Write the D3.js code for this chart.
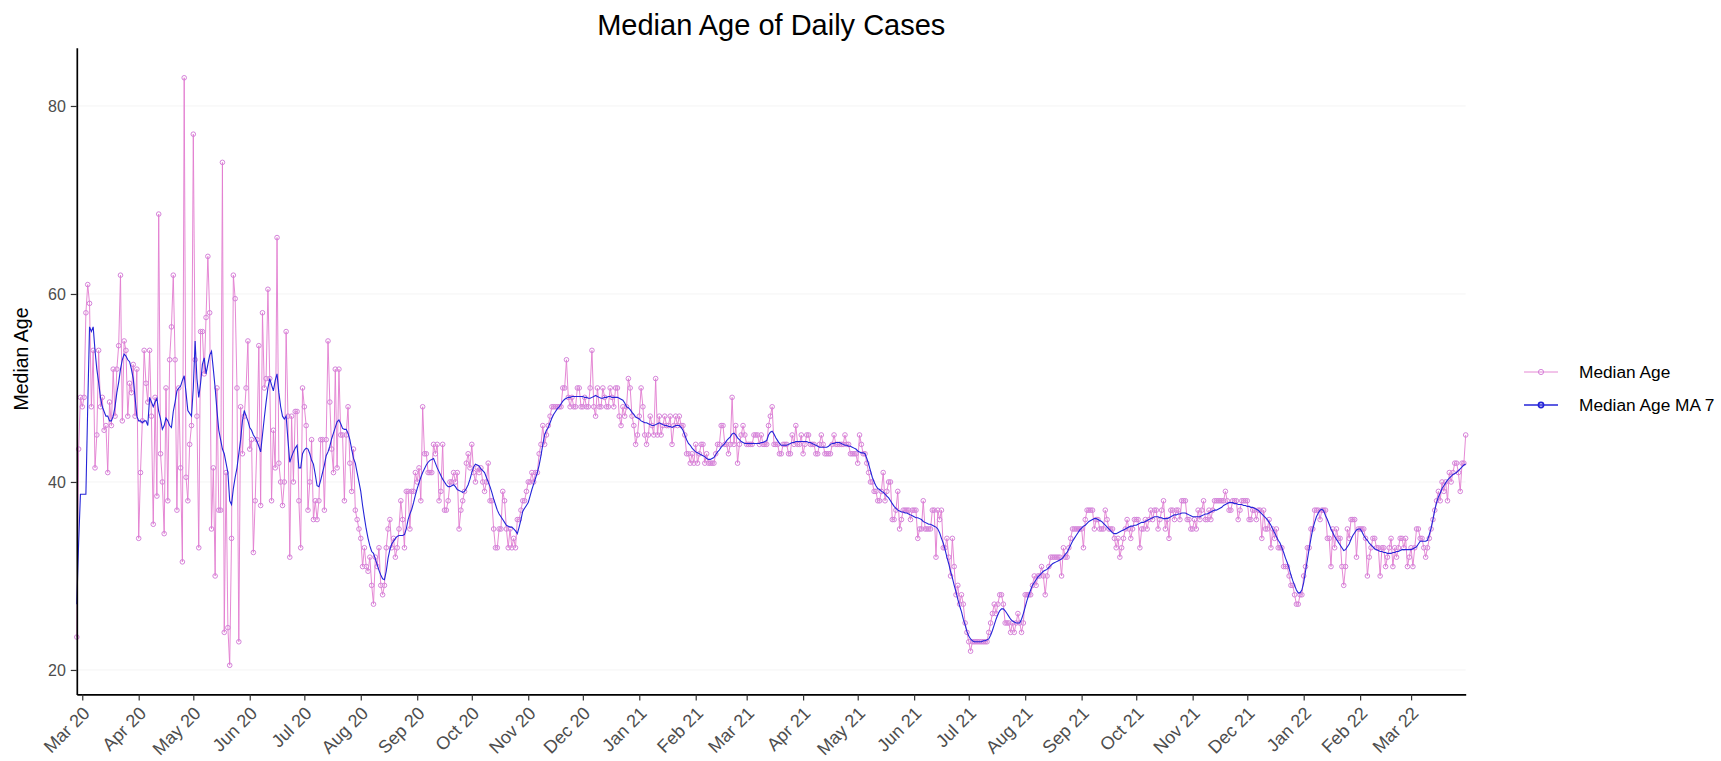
<!DOCTYPE html>
<html>
<head>
<meta charset="utf-8">
<script src="https://cdn.jsdelivr.net/npm/d3@7"></script>
<style>
    body { margin: 0; background: #fff; }
    svg { display: block; font-family: "Liberation Sans", Arial, sans-serif; }
</style>
</head>
<body>
<svg></svg>
<script>
// first day of the series, one value per day after it
const startDate = new Date(Date.UTC(2020, 1, 27));

const ages2020 = [
    23.5, 43.5, 49,
    48, 49, 58, 61, 59, 48, 54, 41.5, 45, 54, 48, 49, 45.5, 46, 41, 48.5, 46, 52, 47, 52, 54.5, 62, 46.5, 55, 54, 47, 50.5, 49.5, 52.5, 47, 52,
    34, 41, 46.5, 54, 50.5, 48.5, 54, 47, 35.5, 49, 38.5, 68.5, 43, 40, 34.5, 50, 38, 53, 56.5, 62, 53, 37, 50, 41.5, 31.5, 83, 40.5, 38, 44, 46,
    77, 53, 47, 33, 56, 56, 51.5, 57.5, 64, 58, 35, 41.5, 30, 50, 37, 37, 74, 24, 41, 24.5, 20.5, 34, 62, 59.5, 50, 23, 48, 43, 47, 50, 55,
    43.5, 44.5, 32.5, 38, 44.5, 54.5, 37.5, 58, 50, 51, 60.5, 51, 38, 45.5, 41.5, 66, 42, 40, 37.5, 40, 56, 47, 32, 47, 40, 47.5, 47.5, 38, 33, 50,
    48, 46, 37, 40, 44.5, 36, 38, 36, 38, 44.5, 44.5, 37, 44.5, 55, 48.5, 43.5, 41, 52, 41.5, 52, 45, 45, 38, 45, 48, 42, 39, 43.5, 37, 36, 35,
    34, 31, 33, 31, 30.5, 32, 29, 27, 32, 31, 33, 29, 28, 29, 33, 35, 36, 33, 34, 32, 33, 35, 38, 36, 33, 39, 39, 35, 39, 39, 41,
    40, 41.5, 38, 48, 43, 43, 41, 41, 41, 44, 43, 44, 38, 39, 44, 37, 37, 38, 40, 40, 41, 40, 41, 35, 37, 38, 39, 42, 43, 41.5,
    44, 41, 40, 41.5, 41, 41.5, 40, 39, 40, 42, 38, 38, 35, 33, 33, 35, 35, 39, 38, 35, 33, 35, 33, 34, 33, 36, 36, 37, 38, 38, 39,
    40, 40, 41, 40, 41, 41, 43, 44, 46, 44, 45, 46, 47, 48, 48, 48, 48, 48, 48, 50, 50, 53, 49, 48, 49, 48, 48, 50, 50, 48,
    48, 49, 48, 48, 50, 54, 48, 47, 50, 48, 48, 50, 49, 48, 48, 50, 49, 48, 50, 50, 47, 46, 48, 47, 48, 51, 50, 47, 46, 44, 45
];

const ages2021 = [
    47, 50, 48, 45, 44, 45, 47, 46, 45, 51, 45, 47, 45, 46, 47, 46, 46, 47, 44, 46, 47, 46, 47, 46, 46, 45, 43, 43, 42, 43, 42,
    44, 42, 43, 44, 44, 42, 43, 42, 42, 42, 42, 43, 44, 44, 46, 46, 44, 44, 43, 44, 49, 44, 46, 42, 44, 45, 46, 45,
    44, 44, 44, 44, 45, 45, 45, 44, 45, 44, 44, 44, 46, 47, 48, 44, 44, 44, 43, 43, 44, 44, 44, 43, 43, 45, 44, 46, 44, 44, 45,
    43, 44, 45, 45, 44, 44, 44, 43, 43, 44, 45, 44, 43, 43, 43, 43, 44, 45, 44, 44, 44, 44, 44, 45, 44, 44, 43, 43, 43, 43,
    42, 45, 44, 43, 43, 42, 41, 40, 40, 39, 39, 38, 38, 39, 41, 38, 39, 40, 40, 36, 36, 37, 39, 35, 36, 37, 37, 37, 37, 36, 37,
    37, 37, 34, 35, 35, 38, 35, 35, 35, 35, 37, 37, 32, 37, 36, 37, 33, 33, 34, 32, 30, 34, 31, 28, 29, 27, 28, 27, 25, 24,
    23, 22, 23, 23, 23, 23, 23, 23, 23, 23, 23, 24, 25, 26, 27, 26, 27, 28, 28, 27, 25, 25, 25, 24, 25, 24, 25, 26, 25, 24, 25,
    28, 28, 28, 28, 29, 30, 29, 30, 30, 31, 30, 28, 30, 31, 32, 32, 32, 32, 32, 32, 30, 33, 32, 32, 33, 34, 35, 35, 35, 35, 35,
    35, 33, 36, 37, 37, 37, 37, 35, 36, 36, 35, 35, 35, 37, 36, 35, 35, 35, 34, 33, 34, 32, 33, 34, 35, 36, 35, 34, 35, 36,
    36, 36, 33, 35, 35, 36, 35, 36, 37, 36, 37, 37, 35, 36, 37, 38, 35, 36, 34, 37, 37, 36, 37, 37, 36, 38, 38, 38, 36, 36, 35,
    35, 36, 35, 37, 36, 37, 38, 36, 36, 37, 36, 37, 38, 38, 38, 38, 38, 38, 39, 38, 37, 37, 38, 38, 38, 36, 37, 38, 38, 38,
    38, 36, 36, 37, 37, 36, 37, 37, 34, 37, 35, 35, 36, 33, 35, 34, 35, 33, 33, 33, 31, 31, 31, 30, 29, 29, 28, 27, 27, 28, 28
];

const ages2022 = [
    30, 31, 33, 33, 35, 35, 37, 37, 37, 36, 37, 37, 37, 34, 34, 31, 35, 33, 35, 34, 34, 31, 29, 31, 35, 34, 36, 36, 36, 32, 35,
    35, 35, 35, 34, 30, 32, 33, 34, 34, 33, 33, 30, 33, 33, 31, 32, 33, 34, 31, 33, 32, 33, 34, 34, 33, 34, 31, 32,
    33, 31, 33, 35, 35, 34, 34, 33, 32, 33, 34, 35, 36, 37, 38, 39, 38, 40, 39, 40, 38, 41, 40, 41, 42, 42, 41, 39, 42, 42, 45
];

const ma2020 = [
    27, 33.5, 38.7,
    38.7, 38.7, 38.7, 48, 56.5, 56, 56.5, 54, 52, 50.6, 49, 48, 47.5, 47, 47, 46.5, 46.5, 47, 48, 49.5, 50.6, 52, 53, 53.6, 53.4, 53, 52.8, 52, 51, 49, 47,
    46.5, 46.5, 46.3, 46.5, 46.5, 46, 49, 48.5, 48, 48.5, 48.9, 47.5, 46.7, 45.6, 46, 46.8, 46.5, 46, 45.8, 47.5, 48.5, 49.7, 50, 50.2, 50.8, 51.3, 49.5, 47.6, 47.3, 47,
    50, 55, 51, 49, 50.5, 52.5, 53.2, 51.5, 52.5, 53.5, 53.9, 52, 50, 47.6, 45.5, 44.5, 43.5, 43, 42, 41, 38, 37.6, 39.3, 40.5, 41.5, 43, 44.5, 46.5, 47.6, 47, 46.5,
    45.8, 45.5, 45, 44.7, 44.3, 43.8, 43.2, 45, 46.8, 48.5, 50, 51, 50.3, 49.7, 50.8, 51.5, 49.5, 48, 47, 46.7, 47, 44.5, 42.1, 42.7, 43.2, 43.6, 43.9, 41.5, 41.5, 43,
    43.4, 43.6, 43.5, 43, 42.3, 41.9, 40.8, 39.6, 39.5, 40.2, 41, 41.8, 42.8, 43.2, 43.8, 44.6, 45.2, 45.8, 46.4, 46.6, 46.2, 45.7, 45.6, 45.6, 45.2, 44.5, 43.5, 42.5, 42, 41, 40,
    39, 37.5, 36.2, 35, 34, 33.2, 32.6, 32.4, 31.8, 31.2, 30.6, 30.1, 29.7, 29.6, 30.5, 31.9, 32.8, 33.4, 33.7, 34, 34.2, 34.3, 34.3, 34.3, 34.4, 35, 36, 36.6, 37.1, 37.8, 38.6,
    39.3, 39.9, 40.5, 41, 41.4, 41.8, 42.1, 42.3, 42.4, 42.5, 42, 41.5, 41.1, 40.7, 40.3, 40, 39.7, 39.5, 39.5, 39.6, 39.7, 39.5, 39.2, 39.1, 39, 38.9, 39, 39.3, 39.7, 40.3,
    41, 41.6, 41.9, 41.8, 41.7, 41.4, 41.2, 41, 40.5, 40, 39.5, 38.9, 38.2, 37.6, 37, 36.6, 36.3, 36, 35.7, 35.4, 35.3, 35.2, 35.2, 35, 34.8, 34.5, 35.2, 36, 36.9, 37.2, 37.5,
    37.8, 38.5, 39.2, 39.8, 40.4, 41, 41.8, 42.8, 44, 45, 45.5, 45.8, 46.3, 46.8, 47.2, 47.5, 47.8, 48, 48.3, 48.6, 48.8, 48.9, 49, 49, 49.1, 49.1, 49.1, 49.1, 49.1, 49.1,
    49.1, 49, 49, 48.9, 48.9, 49, 49.1, 49.2, 49.1, 49, 48.9, 48.9, 49, 49, 49.1, 49.1, 49, 49, 49, 49, 48.9, 48.8, 48.7, 48.4, 48, 47.9, 47.7, 47.4, 47.2, 46.9, 46.8
];

const ma2021 = [
    46.7, 46.5, 46.4, 46.3, 46.3, 46.2, 46.1, 46, 46, 46.1, 46.2, 46.3, 46.2, 46.1, 46, 46, 45.9, 45.9, 45.8, 45.9, 46, 46, 46, 45.8, 45.5, 45, 44.5, 44.1, 43.9, 43.6, 43.4,
    43.2, 43.1, 43, 42.9, 42.8, 42.7, 42.5, 42.4, 42.4, 42.5, 42.6, 42.9, 43.2, 43.4, 43.7, 43.9, 44.1, 44.4, 44.6, 44.8, 45.1, 45.2, 45, 44.7, 44.5, 44.3, 44.2, 44.1,
    44.1, 44.1, 44.1, 44.1, 44.1, 44.1, 44.1, 44.1, 44.2, 44.2, 44.3, 44.4, 45, 45.3, 45.4, 45.1, 44.7, 44.4, 44.1, 43.9, 43.9, 43.9, 43.9, 44, 44.1, 44.2, 44.2, 44.3, 44.3, 44.3, 44.3,
    44.3, 44.3, 44.3, 44.2, 44.2, 44.1, 44, 43.9, 43.8, 43.7, 43.7, 43.7, 43.7, 43.7, 43.8, 44, 44.1, 44.1, 44.2, 44.2, 44.2, 44.1, 44, 43.9, 43.9, 43.8, 43.8, 43.7, 43.6, 43.5,
    43.3, 43.2, 43.1, 43.1, 43, 42.5, 41.9, 41.2, 40.5, 40, 39.6, 39.3, 39.2, 39, 38.9, 38.7, 38.5, 38.3, 38, 37.7, 37.4, 37.2, 37, 36.9, 36.8, 36.8, 36.7, 36.7, 36.6, 36.5, 36.4,
    36.3, 36.2, 36.2, 36.1, 36, 35.8, 35.7, 35.6, 35.5, 35.5, 35.4, 35.3, 35.2, 35, 34.6, 34, 33.5, 32.8, 32, 31.3, 30.5, 29.8, 29, 28.3, 27.5, 26.8, 26.2, 25.4, 24.8, 24.1,
    23.6, 23.3, 23.1, 23, 23, 23, 23, 23, 23.1, 23.1, 23.2, 23.3, 23.7, 24.2, 24.8, 25.4, 25.9, 26.3, 26.5, 26.5, 26.3, 26, 25.7, 25.4, 25.2, 25.1, 25, 25, 25, 25.4, 26,
    26.7, 27.4, 28, 28.5, 29, 29.3, 29.6, 29.9, 30.1, 30.3, 30.5, 30.6, 30.7, 30.9, 31.1, 31.3, 31.4, 31.5, 31.6, 31.7, 31.8, 32, 32.3, 32.5, 32.9, 33.3, 33.7, 34, 34.3, 34.6, 34.9,
    35.1, 35.3, 35.4, 35.6, 35.8, 35.9, 36, 36.1, 36.1, 36, 35.9, 35.8, 35.6, 35.4, 35.2, 35, 34.8, 34.6, 34.5, 34.5, 34.6, 34.7, 34.8, 34.9, 35, 35.1, 35.2, 35.3, 35.3, 35.4,
    35.4, 35.5, 35.6, 35.7, 35.7, 35.8, 35.9, 36, 36.1, 36.2, 36.3, 36.3, 36.3, 36.2, 36.2, 36.1, 36.1, 36.1, 36.2, 36.3, 36.4, 36.5, 36.5, 36.6, 36.6, 36.7, 36.7, 36.7, 36.6, 36.5, 36.4,
    36.3, 36.3, 36.3, 36.3, 36.3, 36.4, 36.5, 36.6, 36.6, 36.7, 36.8, 36.9, 37, 37, 37.1, 37.2, 37.3, 37.5, 37.6, 37.7, 37.8, 37.8, 37.8, 37.7, 37.7, 37.6, 37.6, 37.6, 37.5, 37.5,
    37.4, 37.4, 37.3, 37.3, 37.2, 37.1, 37, 36.8, 36.6, 36.4, 36.2, 36, 35.7, 35.4, 35, 34.6, 34.2, 33.8, 33.5, 33, 32.5, 31.9, 31.4, 30.8, 30.1, 29.5, 29, 28.5, 28.2, 28.2, 28.5
];

const ma2022 = [
    29.3, 30.5, 31.7, 32.9, 34, 35, 35.7, 36.3, 36.7, 37, 37.1, 36.9, 36.4, 36, 35.5, 35, 34.6, 34.2, 33.9, 33.6, 33.3, 33, 32.7, 32.8, 33.1, 33.4, 33.9, 34.3, 34.6, 34.9, 35,
    35, 34.7, 34.3, 34, 33.8, 33.5, 33.3, 33.1, 32.9, 32.8, 32.7, 32.6, 32.6, 32.5, 32.5, 32.4, 32.4, 32.4, 32.5, 32.5, 32.6, 32.6, 32.7, 32.8, 32.8, 32.8, 32.8, 32.8,
    32.8, 32.9, 33, 33.1, 33.4, 33.7, 33.7, 33.7, 33.7, 33.8, 34.4, 35.1, 36, 37, 37.8, 38.4, 38.8, 39.3, 39.6, 39.9, 40.2, 40.4, 40.6, 40.8, 40.9, 41, 41.2, 41.4, 41.6, 41.8, 41.9
];

const yTicks = [20, 40, 60, 80];
const seriesNames = ['Median Age', 'Median Age MA 7'];

let width = 1721,
    height = 761;

let plotLeft = 76.8,
    plotRight = 1465.7,
    plotTop = 47.7,
    plotBottom = 694.4;

let ageColor = '#e27ccf',
    pointColor = '#d583da',
    maColor = '#2424d8';

let ages = ages2020.concat(ages2021, ages2022);
let mas = ma2020.concat(ma2021, ma2022);
let data = ages.map((v, i) => ({ date: d3.utcDay.offset(startDate, i), age: v, ma: mas[i] }));

let svg = d3.select('svg')
    .attr('width', width)
    .attr('height', height);

svg.append('rect')
    .attr('width', width)
    .attr('height', height)
    .attr('fill', '#fff');

let x = d3.scaleUtc()
    .domain(d3.extent(data, d => d.date))
    .range([plotLeft, plotRight]);

let y = d3.scaleLinear()
    .domain([17.4, 86.2])
    .range([plotBottom, plotTop]);

// faint horizontal grid
svg.append('g')
    .selectAll('line')
    .data(yTicks).enter()
    .append('line')
    .attr('x1', plotLeft)
    .attr('x2', plotRight)
    .attr('y1', d => y(d))
    .attr('y2', d => y(d))
    .attr('stroke', '#f4f4f4')
    .attr('stroke-width', 1);

let ageLine = d3.line()
    .x(d => x(d.date))
    .y(d => y(d.age));

let maLine = d3.line()
    .x(d => x(d.date))
    .y(d => y(d.ma));

svg.append('path')
    .datum(data)
    .attr('d', ageLine)
    .attr('fill', 'none')
    .attr('stroke', ageColor)
    .attr('stroke-width', 0.9);

svg.append('g')
    .selectAll('circle')
    .data(data).enter()
    .append('circle')
    .attr('cx', d => x(d.date))
    .attr('cy', d => y(d.age))
    .attr('r', 2.3)
    .attr('fill', 'none')
    .attr('stroke', pointColor)
    .attr('stroke-width', 1);

svg.append('path')
    .datum(data)
    .attr('d', maLine)
    .attr('fill', 'none')
    .attr('stroke', maColor)
    .attr('stroke-width', 1.1);

// axes
let yAxis = svg.append('g')
    .attr('transform', 'translate(' + plotLeft + ',0)')
    .call(d3.axisLeft(y).tickValues(yTicks).tickSize(6).tickPadding(5).tickSizeOuter(0));

let monthTicks = d3.utcMonth.range(d3.utcMonth.ceil(x.domain()[0]), x.domain()[1]);

let xAxis = svg.append('g')
    .attr('transform', 'translate(0,' + plotBottom + ')')
    .call(d3.axisBottom(x).tickValues(monthTicks).tickFormat(d3.utcFormat('%b %y')).tickSize(6).tickSizeOuter(0));

[xAxis, yAxis].forEach(a => {
    a.select('.domain').attr('stroke', '#000').attr('stroke-width', 1.7);
    a.selectAll('.tick line').attr('stroke', '#333').attr('stroke-width', 1.2);
    a.selectAll('.tick text')
        .attr('fill', '#4d4d4d')
        .style('font-size', '16px');
});

xAxis.selectAll('.tick text')
    .attr('x', 0)
    .attr('y', 0)
    .attr('dy', '0.71em')
    .attr('text-anchor', 'end')
    .style('font-size', '18px')
    .attr('transform', 'translate(-1,11) rotate(-45)');

// titles
svg.append('text')
    .attr('x', (plotLeft + plotRight) / 2)
    .attr('y', 35)
    .attr('text-anchor', 'middle')
    .style('font-size', '29px')
    .text('Median Age of Daily Cases');

svg.append('text')
    .attr('transform', 'translate(28,359) rotate(-90)')
    .attr('text-anchor', 'middle')
    .style('font-size', '19.5px')
    .text('Median Age');

// legend
let legend = svg.append('g')
    .attr('transform', 'translate(1524,372)');

let keys = legend.selectAll('g')
    .data(seriesNames).enter()
    .append('g')
    .attr('transform', (d, i) => 'translate(0,' + i * 33 + ')');

keys.append('line')
    .attr('x1', 0)
    .attr('x2', 34)
    .attr('stroke', (d, i) => i ? maColor : ageColor)
    .attr('stroke-width', (d, i) => i ? 1.4 : 0.9);

keys.append('circle')
    .attr('cx', 17)
    .attr('r', 2.6)
    .attr('fill', 'none')
    .attr('stroke', (d, i) => i ? maColor : pointColor)
    .attr('stroke-width', (d, i) => i ? 1.6 : 1);

keys.append('text')
    .attr('x', 55)
    .attr('dy', '0.35em')
    .style('font-size', '17.3px')
    .text(d => d);
</script>
</body>
</html>
